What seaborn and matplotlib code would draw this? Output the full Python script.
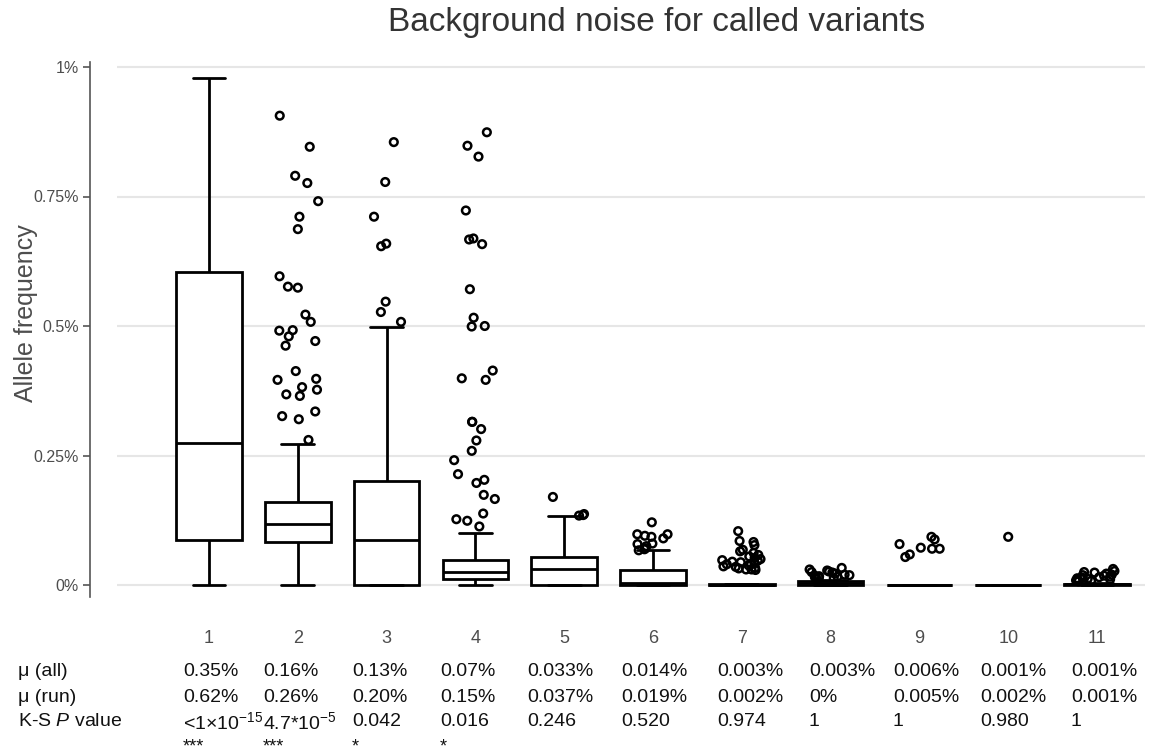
import numpy as np
import pandas as pd
import matplotlib
matplotlib.use("Agg")
import matplotlib.pyplot as plt
import seaborn as sns

# ---------------- data ----------------
categories = [str(i) for i in range(1, 12)]
whisker_low = [0, 0, 0, 0, 0, 0, 0, 0, 0, 0, 0]
q1 = [0.087, 0.083, 0.0, 0.012, 0.0, 0.0, 0.0, 0.0, 0.0, 0.0, 0.0]
median = [0.275, 0.118, 0.086, 0.025, 0.030, 0.004, 0.0005, 0.003, 0.0, 0.0, 0.001]
q3 = [0.605, 0.161, 0.201, 0.049, 0.054, 0.028, 0.001, 0.007, 0.0, 0.0, 0.002]
whisker_high = [0.978, 0.272, 0.499, 0.100, 0.134, 0.068, 0.001, 0.009, 0.0, 0.0, 0.003]

outliers_1 = []
outliers_2 = [0.906, 0.846, 0.790, 0.776, 0.741, 0.711, 0.687, 0.596, 0.576, 0.574,
              0.522, 0.508, 0.492, 0.491, 0.480, 0.471, 0.462, 0.413, 0.398, 0.396,
              0.382, 0.377, 0.368, 0.365, 0.335, 0.326, 0.320, 0.280]
outliers_3 = [0.855, 0.778, 0.711, 0.659, 0.654, 0.547, 0.527, 0.508]
outliers_4 = [0.874, 0.848, 0.827, 0.723, 0.669, 0.667, 0.658, 0.571, 0.516, 0.500,
              0.499, 0.414, 0.399, 0.396, 0.315, 0.315, 0.301, 0.279, 0.259, 0.241,
              0.214, 0.203, 0.197, 0.174, 0.166, 0.138, 0.127, 0.124, 0.113]
outliers_5 = [0.170, 0.137, 0.135, 0.134]
outliers_6 = [0.121, 0.098, 0.098, 0.095, 0.093, 0.090, 0.080, 0.079, 0.075, 0.071,
              0.069, 0.067]
outliers_7 = [0.104, 0.085, 0.083, 0.077, 0.068, 0.065, 0.062, 0.058, 0.055, 0.052,
              0.050, 0.048, 0.047, 0.045, 0.044, 0.042, 0.040, 0.040, 0.038, 0.036,
              0.035, 0.033, 0.032, 0.030, 0.030, 0.029]
outliers_8 = [0.033, 0.030, 0.028, 0.026, 0.025, 0.024, 0.022, 0.020, 0.019, 0.018,
              0.017, 0.016, 0.015, 0.014, 0.013, 0.012]
outliers_9 = [0.093, 0.088, 0.079, 0.072, 0.070, 0.070, 0.059, 0.054]
outliers_10 = [0.093]
outliers_11 = [0.031, 0.027, 0.025, 0.024, 0.022, 0.020, 0.019, 0.018, 0.016, 0.015,
               0.014, 0.013, 0.012, 0.011, 0.010, 0.009, 0.008, 0.007]

mu_all = ["0.35%", "0.16%", "0.13%", "0.07%", "0.033%", "0.014%", "0.003%",
          "0.003%", "0.006%", "0.001%", "0.001%"]
mu_run = ["0.62%", "0.26%", "0.20%", "0.15%", "0.037%", "0.019%", "0.002%",
          "0%", "0.005%", "0.002%", "0.001%"]
ks_p = [r"<1×10$^{-15}$", r"4.7*10$^{-5}$", "0.042", "0.016", "0.246", "0.520",
        "0.974", "1", "1", "0.980", "1"]
stars = ["***", "***", "*", "*", "", "", "", "", "", "", ""]
row_labels = ["μ (all)", "μ (run)", r"K-S $\mathit{P}$ value"]

yticks = [0, 0.25, 0.5, 0.75, 1.0]
ytick_labels = ["0%", "0.25%", "0.5%", "0.75%", "1%"]

# ---------------- build tables ----------------
box_rows = []
for i, c in enumerate(categories):
    for v in (whisker_low[i], q1[i], median[i], q3[i], whisker_high[i]):
        box_rows.append({"group": c, "af": v})
box_df = pd.DataFrame(box_rows)

all_out = [outliers_1, outliers_2, outliers_3, outliers_4, outliers_5, outliers_6,
           outliers_7, outliers_8, outliers_9, outliers_10, outliers_11]
out_rows = []
for c, lst in zip(categories, all_out):
    for v in lst:
        out_rows.append({"group": c, "af": v})
out_df = pd.DataFrame(out_rows)

# ---------------- style ----------------
sns.set_style("white")
plt.rcParams["font.family"] = ["Liberation Sans", "DejaVu Sans"]
plt.rcParams["mathtext.fontset"] = "custom"
plt.rcParams["mathtext.rm"] = "Liberation Sans"
plt.rcParams["mathtext.it"] = "Liberation Sans:italic"
plt.rcParams["mathtext.default"] = "regular"

W, H = 1157, 754
fig = plt.figure(figsize=(W / 100, H / 100), dpi=100)
ax = fig.add_axes([117 / W, 1 - 597 / H, (1145 - 117) / W, (597 - 62) / H])

sns.boxplot(data=box_df, x="group", y="af", order=categories, ax=ax,
            color="white", linecolor="black", linewidth=2.0, width=0.74,
            whis=(0, 100), showfliers=False, zorder=2)

np.random.seed(7)
n_before = len(ax.collections)
sns.stripplot(data=out_df, x="group", y="af", order=categories, ax=ax,
              jitter=0.24, size=5.5, color="black", zorder=3)
for coll in ax.collections[n_before:]:
    coll.set_facecolor("none")
    coll.set_edgecolor("black")
    coll.set_linewidth(1.8)

ax.set_ylim(-(597 - 585) / 518, 1 + (67 - 62) / 518)
ax.set_xlim(-(209 - 117) / 88.8, 10 + (1145 - 1097) / 88.8)
ax.set_yticks(yticks)
ax.set_yticklabels(ytick_labels)
ax.set_xlabel("")
ax.set_ylabel("")
ax.yaxis.grid(True, color="#e6e6e6", linewidth=1.5, zorder=0)
ax.set_axisbelow(True)
for s in ("top", "right", "bottom"):
    ax.spines[s].set_visible(False)
ax.spines["left"].set_position(("outward", 27 * 0.72))
ax.spines["left"].set_color("#555555")
ax.spines["left"].set_linewidth(1.2)
ax.tick_params(axis="y", left=True, length=5, width=1.2, color="#555555",
               labelsize=11.5, labelcolor="#4d4d4d", pad=3)
ax.tick_params(axis="x", bottom=False, length=0, pad=24, labelsize=13,
               labelcolor="#4d4d4d")

fig.text(657 / W, 1 - 23 / H, "Background noise for called variants",
         ha="center", va="center", fontsize=24, color="#333333")
fig.text(26 / W, 1 - 313 / H, "Allele frequency", rotation=90,
         ha="center", va="center", fontsize=18, color="#4d4d4d")

col_left = [183, 263, 352, 440, 527, 621, 717, 809, 893, 980, 1071]
row_y = [671, 697, 722]
for lab, yy in zip(row_labels, row_y):
    fig.text(18 / W, 1 - yy / H, lab, ha="left", va="center", fontsize=14,
             color="#111111")
for r, (vals, yy) in enumerate(zip([mu_all, mu_run, ks_p], row_y)):
    for x0, t in zip(col_left, vals):
        fig.text(x0 / W, 1 - yy / H, t, ha="left", va="center", fontsize=14,
                 color="#111111")
for x0, t in zip(col_left, stars):
    if t:
        fig.text(x0 / W, 1 - 738 / H, t, ha="left", va="top", fontsize=13,
                 color="#111111")

fig.savefig("out.png", dpi=100)
